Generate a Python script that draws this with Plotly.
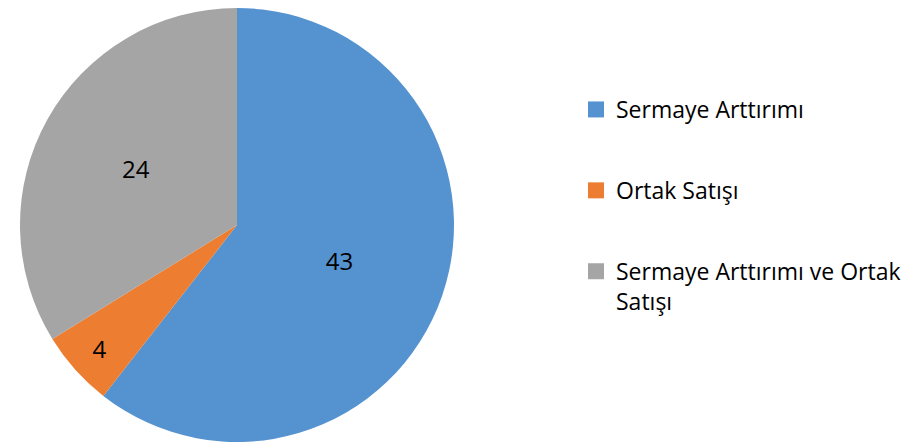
import plotly.graph_objects as go

labels = ["Sermaye Arttırımı", "Ortak Satışı", "Sermaye Arttırımı ve Ortak<br>Satışı"]
values = [43, 4, 24]
colors = ["#5592D0", "#ED7D31", "#A5A5A5"]

fig = go.Figure()
fig.add_trace(go.Pie(
    labels=labels,
    values=values,
    sort=False,
    direction="clockwise",
    rotation=0,
    marker=dict(colors=colors, line=dict(width=0)),
    textinfo="value",
    textposition="inside",
    insidetextorientation="horizontal",
    textfont=dict(family="Open Sans", size=24, color="black"),
    domain=dict(x=[12/916, 446/916], y=[14/448, 1]),
    hoverinfo="label+value",
    showlegend=False,
))

# legend entries (one per slice)
for i, (lab, col) in enumerate(zip(labels, colors)):
    fig.add_trace(go.Scatter(
        x=[None], y=[None], mode="markers", name=lab,
        marker=dict(symbol="square", size=16, color=col),
        legendgroup=f"g{i}", showlegend=True, hoverinfo="skip",
    ))

fig.update_layout(
    width=916, height=448,
    margin=dict(l=0, r=0, t=0, b=0),
    paper_bgcolor="white",
    plot_bgcolor="white",
    xaxis=dict(visible=False),
    yaxis=dict(visible=False),
    showlegend=True,
    legend=dict(
        x=568/916, xanchor="left",
        y=1 - 80/448, yanchor="top",
        font=dict(family="Open Sans", size=23, color="black"),
        valign="top",
        traceorder="grouped",
        tracegroupgap=48,
        itemsizing="trace",
        bgcolor="rgba(0,0,0,0)",
    ),
)

fig.write_html("out.html")
